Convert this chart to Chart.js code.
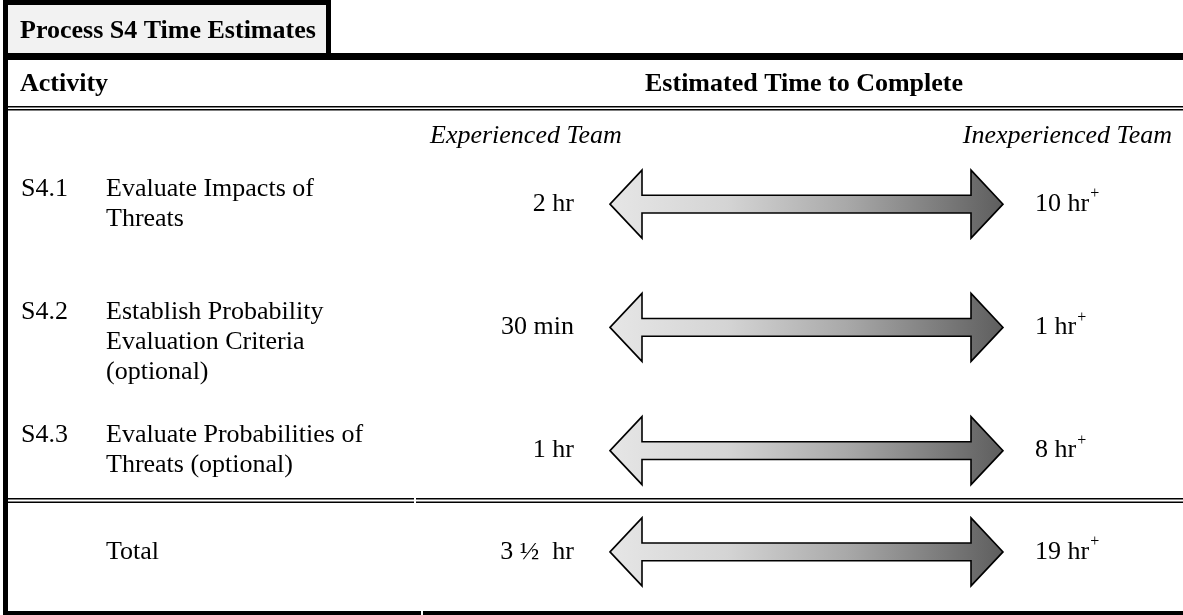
<!DOCTYPE html>
<html>
<head>
<meta charset="utf-8">
<title>Process S4 Time Estimates</title>
<script src="https://cdn.jsdelivr.net/npm/chart.js@4.4.1/dist/chart.umd.min.js"></script>
<style>
  html, body { margin: 0; padding: 0; background: #fff; }
  canvas { display: block; }
</style>
</head>
<body>
<canvas id="chart" width="1183" height="615"></canvas>
<script>
// table content
const title = "Process S4 Time Estimates";
const columnHeaders = ["Activity", "Estimated Time to Complete"];
const teamLabels = ["Experienced Team", "Inexperienced Team"];
const activityCodes = ["S4.1", "S4.2", "S4.3", ""];
const activityNames = [
  ["Evaluate Impacts of", "Threats"],
  ["Establish Probability", "Evaluation Criteria", "(optional)"],
  ["Evaluate Probabilities of", "Threats (optional)"],
  ["Total"]
];
const experiencedTimes = ["2 hr", "30 min", "1 hr", "3 ½  hr"];
const inexperiencedTimes = ["10 hr", "1 hr", "8 hr", "19 hr"];
const timeMarks = ["+", "+", "+", "+"];
// every arrow runs from the experienced end (0) to the inexperienced end (1)
const arrowSpans = [[0, 1], [0, 1], [0, 1], [0, 1]];

const FONT = "'Liberation Serif', 'Times New Roman', serif";
const FONT_SIZE = 26;
const LINE = 30;
const ROW_PAD = 3.1;     // extra line units around each row
const W = 1183, H = 615;

// row centres in line units, from the number of text lines of each row
const rowUnits = [];
let units = 0;
activityNames.forEach(lines => {
  const h = lines.length + ROW_PAD;
  rowUnits.push(units + h / 2);
  units += h;
});

function hline(ctx, x1, x2, y, w) {
  ctx.fillRect(x1, y, x2 - x1, w);
}

const tablePlugin = {
  id: "tableLayout",
  beforeDraw(chart) {
    const ctx = chart.ctx;
    ctx.save();
    ctx.fillStyle = "#fff";
    ctx.fillRect(0, 0, W, H);

    // title box
    ctx.font = "bold " + FONT_SIZE + "px " + FONT;
    const boxRight = Math.round(20 + ctx.measureText(title).width + 10);
    ctx.fillStyle = "#f2f2f2";
    ctx.fillRect(8, 5, boxRight - 8, 48);
    ctx.fillStyle = "#000";
    ctx.fillRect(3, 0, boxRight + 5 - 3, 5);
    ctx.fillRect(boxRight, 0, 5, 55);

    // left border and rules
    ctx.fillRect(3, 0, 5, H);
    hline(ctx, 3, W, 53, 7);
    hline(ctx, 8, W, 106, 1.5);
    hline(ctx, 8, W, 109, 1.5);
    hline(ctx, 8, 414, 498, 1.5);
    hline(ctx, 416, W, 498, 1.5);
    hline(ctx, 8, 414, 501.5, 1.5);
    hline(ctx, 416, W, 501.5, 1.5);
    hline(ctx, 3, 421, 611, 4);
    hline(ctx, 423, W, 611, 4);
    ctx.restore();
  },
  afterDatasetsDraw(chart) {
    const ctx = chart.ctx;
    const meta = chart.getDatasetMeta(0);
    meta.data.forEach(el => {
      const p = el.getProps(["x", "base", "y", "height"], true);
      const left = Math.min(p.x, p.base), right = Math.max(p.x, p.base);
      const half = p.height / 2;
      const shaft = p.height * 0.13;
      const head = 32;
      const g = ctx.createLinearGradient(left, 0, right, 0);
      g.addColorStop(0, "#e6e6e6");
      g.addColorStop(0.3, "#d4d4d4");
      g.addColorStop(0.6, "#a9a9a9");
      g.addColorStop(1, "#5e5e5e");
      ctx.save();
      ctx.beginPath();
      ctx.moveTo(left, p.y);
      ctx.lineTo(left + head, p.y - half);
      ctx.lineTo(left + head, p.y - shaft);
      ctx.lineTo(right - head, p.y - shaft);
      ctx.lineTo(right - head, p.y - half);
      ctx.lineTo(right, p.y);
      ctx.lineTo(right - head, p.y + half);
      ctx.lineTo(right - head, p.y + shaft);
      ctx.lineTo(left + head, p.y + shaft);
      ctx.lineTo(left + head, p.y + half);
      ctx.closePath();
      ctx.fillStyle = g;
      ctx.fill();
      ctx.lineWidth = 1.6;
      ctx.lineJoin = "miter";
      ctx.strokeStyle = "#000";
      ctx.stroke();
      ctx.restore();
    });
  },
  afterDraw(chart) {
    const ctx = chart.ctx;
    const yScale = chart.scales.y;
    ctx.save();
    ctx.fillStyle = "#000";
    ctx.textBaseline = "middle";

    ctx.font = "bold " + FONT_SIZE + "px " + FONT;
    ctx.textAlign = "left";
    ctx.fillText(title, 20, 31);
    ctx.fillText(columnHeaders[0], 20, 84);
    ctx.textAlign = "center";
    ctx.fillText(columnHeaders[1], 804, 84);

    ctx.font = "italic " + FONT_SIZE + "px " + FONT;
    ctx.textAlign = "left";
    ctx.fillText(teamLabels[0], 430, 136);
    ctx.textAlign = "right";
    ctx.fillText(teamLabels[1], 1172, 136);

    ctx.font = FONT_SIZE + "px " + FONT;
    activityNames.forEach((lines, i) => {
      const cy = yScale.getPixelForValue(rowUnits[i]);
      // the arrow sits between the first two lines of a row
      const top = lines.length > 1 ? cy - LINE / 2 : cy;
      ctx.textAlign = "left";
      ctx.fillText(activityCodes[i], 21, top);
      lines.forEach((ln, k) => ctx.fillText(ln, 106, top + k * LINE));

      ctx.textAlign = "right";
      ctx.fillText(experiencedTimes[i], 574, cy);

      ctx.textAlign = "left";
      ctx.fillText(inexperiencedTimes[i], 1035, cy);
      const w = ctx.measureText(inexperiencedTimes[i]).width;
      ctx.font = "16px " + FONT;
      ctx.fillText(timeMarks[i], 1035 + w + 1, cy - 10);
      ctx.font = FONT_SIZE + "px " + FONT;
    });
    ctx.restore();
  }
};

new Chart(document.getElementById("chart"), {
  type: "bar",
  data: {
    datasets: [{
      data: arrowSpans.map((s, i) => ({ x: s, y: rowUnits[i] })),
      backgroundColor: "rgba(0,0,0,0)",
      borderWidth: 0,
      barThickness: 68
    }]
  },
  options: {
    indexAxis: "y",
    responsive: false,
    animation: false,
    devicePixelRatio: 1,
    layout: { padding: { left: 610, right: 180, top: 148, bottom: 18 } },
    scales: {
      x: { type: "linear", min: 0, max: 1, display: false },
      y: { type: "linear", min: 0, max: units, reverse: true, offset: false, display: false }
    },
    plugins: {
      legend: { display: false },
      tooltip: { enabled: false }
    },
    events: []
  },
  plugins: [tablePlugin]
});
</script>
</body>
</html>
